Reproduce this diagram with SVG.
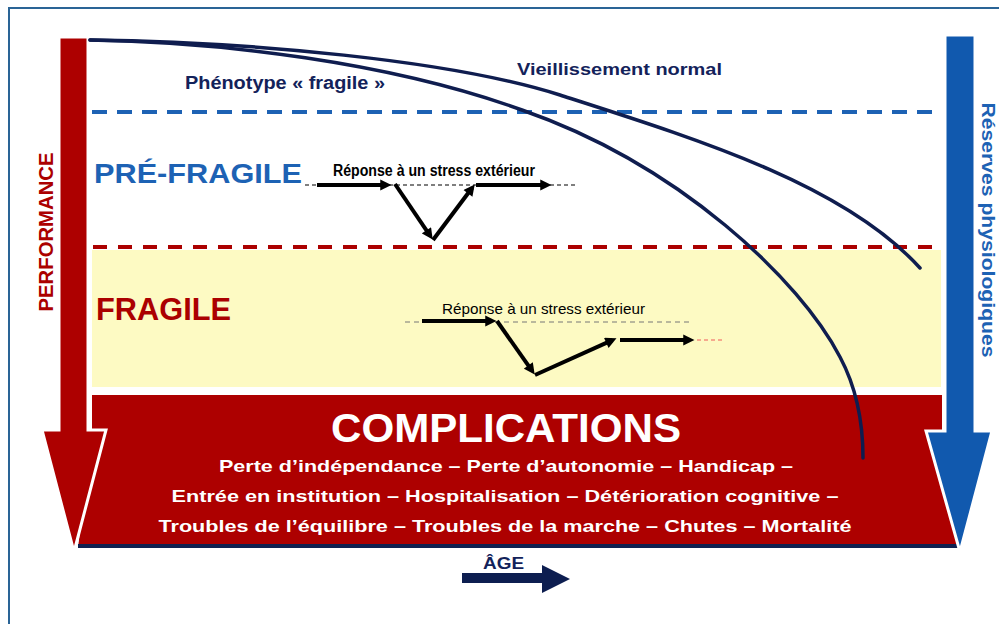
<svg xmlns="http://www.w3.org/2000/svg" width="999" height="624" viewBox="0 0 999 624">
<defs>
<style>
.b{font-family:"Liberation Sans",Arial,sans-serif;font-weight:bold}
.n{font-family:"Liberation Sans Narrow","Arial Narrow","Liberation Sans",Arial,sans-serif}
.navy{fill:#13225a}
.blue{fill:#1d62b4}
.red{fill:#ab0000}
.wt{fill:#ffffff}
.curve{fill:none;stroke:#0f1d4f;stroke-width:3.5;stroke-linecap:round}
.resp{fill:none;stroke:#000;stroke-width:4;marker-end:url(#ah)}
</style>
<marker id="ah" viewBox="0 0 10 10" refX="6" refY="5" markerWidth="3.2" markerHeight="2.8" orient="auto" markerUnits="strokeWidth">
<path d="M0,0 L10,5 L0,10 Z" fill="#000"/>
</marker>
</defs>
<rect width="999" height="624" fill="#ffffff"/>
<g id="border">
<rect x="9" y="8" width="1010" height="640" fill="none" stroke="#2a6496" stroke-width="2"/>
</g>
<g id="zones">
<rect x="92" y="250" width="849" height="137" fill="#fdfac3"/>
<line x1="92" y1="112" x2="942" y2="112" stroke="#1d62b4" stroke-width="4" stroke-dasharray="15 10"/>
<line x1="93" y1="247" x2="940" y2="247" stroke="#ab0000" stroke-width="4" stroke-dasharray="14 11"/>
</g>
<g id="complications">
<polygon points="92,395 942,395 942,431 958,548 78,548 92,431" fill="#ad0000"/>
<rect x="78" y="544" width="880" height="4" fill="#10204f"/>
<text class="b wt" x="506" y="442" font-size="40" text-anchor="middle" textLength="350" lengthAdjust="spacingAndGlyphs">COMPLICATIONS</text>
<text class="b wt" x="506" y="472" font-size="17" text-anchor="middle" textLength="574" lengthAdjust="spacingAndGlyphs">Perte d’indépendance – Perte d’autonomie – Handicap –</text>
<text class="b wt" x="505" y="502" font-size="17" text-anchor="middle" textLength="667" lengthAdjust="spacingAndGlyphs">Entrée en institution – Hospitalisation – Détérioration cognitive –</text>
<text class="b wt" x="505" y="532" font-size="17" text-anchor="middle" textLength="693" lengthAdjust="spacingAndGlyphs">Troubles de l’équilibre – Troubles de la marche – Chutes – Mortalité</text>
</g>
<g id="performance">
<path d="M59,37 H88 V430 H106 L74,552 L42,430 H59 Z" fill="#ad0000" stroke="#ffffff" stroke-width="3" stroke-linejoin="miter"/>
<text class="b red" transform="translate(53,232) rotate(-90)" x="0" y="0" font-size="20" text-anchor="middle" textLength="159" lengthAdjust="spacingAndGlyphs">PERFORMANCE</text>
</g>
<g id="reserves">
<path d="M945,35 H975 V431 H992 L960,552 L926,431 H945 Z" fill="#1159ae" stroke="#ffffff" stroke-width="3" stroke-linejoin="miter"/>
<text class="b blue" transform="translate(982,230) rotate(90)" x="0" y="0" font-size="18" text-anchor="middle" textLength="255" lengthAdjust="spacingAndGlyphs">Réserves physiologiques</text>
</g>
<g id="labels">
<text class="b navy" x="185" y="89" font-size="18" textLength="200" lengthAdjust="spacingAndGlyphs">Phénotype « fragile »</text>
<text class="b navy" x="517" y="75" font-size="17" textLength="205" lengthAdjust="spacingAndGlyphs">Vieillissement normal</text>
<text class="b blue" x="94" y="183" font-size="28" textLength="208" lengthAdjust="spacingAndGlyphs">PRÉ-FRAGILE</text>
<text class="b red" x="96" y="320" font-size="31" textLength="135" lengthAdjust="spacingAndGlyphs">FRAGILE</text>
</g>
<g id="connectors">
<path class="curve" d="M90,40 C250,42 450,60 560,95 C700,140 845,185 920,268"/>
<path class="curve" d="M90,40 C220,42 390,62 522,110 C680,165 800,280 840,357 C855,385 863,420 863,458"/>
</g>
<g id="response-prefragile">
<text class="n" x="333" y="176" font-size="16" font-weight="bold" textLength="202" lengthAdjust="spacingAndGlyphs" fill="#000">Réponse à un stress extérieur</text>
<line x1="305" y1="185" x2="577" y2="185" stroke="#000" stroke-width="1.2" stroke-dasharray="4 3"/>
<line class="resp" x1="317" y1="185" x2="387" y2="185"/>
<line class="resp" x1="395" y1="184" x2="430.2" y2="235.9"/>
<line class="resp" x1="433" y1="240" x2="472" y2="188"/>
<line class="resp" x1="476" y1="185" x2="547" y2="185"/>
</g>
<g id="response-fragile">
<text class="n" x="442" y="314" font-size="15" textLength="203" lengthAdjust="spacingAndGlyphs" fill="#000">Réponse à un stress extérieur</text>
<line x1="405" y1="322" x2="690" y2="322" stroke="#777" stroke-width="1" stroke-dasharray="5 4"/>
<line class="resp" x1="422" y1="321" x2="492" y2="321"/>
<line class="resp" x1="497" y1="321" x2="532.1" y2="370.9"/>
<line class="resp" x1="535" y1="375" x2="612.4" y2="340.1"/>
<line class="resp" x1="620" y1="340" x2="690" y2="340"/>
<line x1="697" y1="340" x2="723" y2="340" stroke="#f05a5a" stroke-width="1" stroke-dasharray="4 3"/>
</g>
<g id="age">
<text class="b navy" x="483" y="569" font-size="17" textLength="41" lengthAdjust="spacingAndGlyphs">ÂGE</text>
<path d="M462,573 H542 V565 L570,579 L542,593 V583 H462 Z" fill="#0d1e50"/>
</g>
</svg>
